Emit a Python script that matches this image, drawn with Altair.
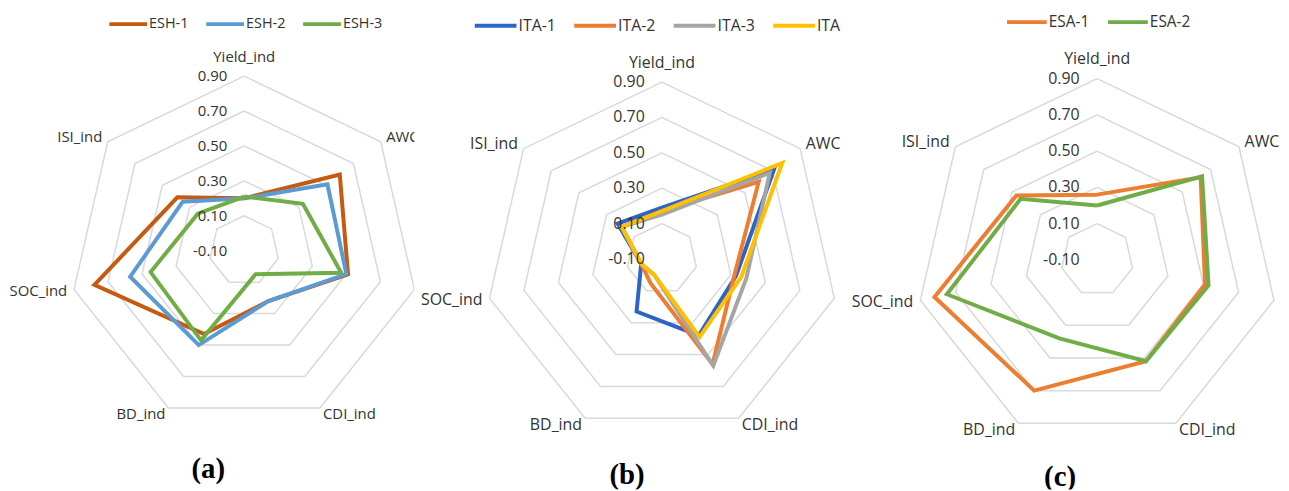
import altair as alt
import pandas as pd
import numpy as np

# ---------------- data ----------------
axis_labels = ["Yield_ind", "AWC", "SAR_ind", "CDI_ind", "BD_ind", "SOC_ind", "ISI_ind"]
hidden_label = "SAR_ind"   # its label falls outside each panel in the reference
tick_values = [0.9, 0.7, 0.5, 0.3, 0.1, -0.1]
tick_labels = ["0.90", "0.70", "0.50", "0.30", "0.10", "-0.10"]
ring_values = [0.1, 0.3, 0.5, 0.7, 0.9]
axis_min, axis_max = -0.1, 0.9

esh_names = ["ESH-1", "ESH-2", "ESH-3"]
esh_colors = ["#C55A11", "#5B9BD5", "#70AD47"]
esh1 = [0.20, 0.60, 0.51, 0.22, 0.43, 0.78, 0.39]
esh2 = [0.20, 0.51, 0.50, 0.22, 0.50, 0.57, 0.35]
esh3 = [0.21, 0.33, 0.47, 0.05, 0.47, 0.45, 0.24]

ita_names = ["ITA-1", "ITA-2", "ITA-3", "ITA-4"]
ita_colors = ["#2E64C6", "#ED7D31", "#A5A5A5", "#FFC000"]
ita1 = [0.19, 0.71, 0.33, 0.38, 0.23, 0.02, 0.22]
ita2 = [0.17, 0.60, 0.32, 0.56, 0.05, 0.02, 0.19]
ita3 = [0.15, 0.68, 0.39, 0.57, 0.00, 0.02, 0.19]
ita4 = [0.17, 0.77, 0.36, 0.39, 0.00, 0.02, 0.19]

esa_names = ["ESA-1", "ESA-2"]
esa_colors = ["#ED7D31", "#70AD47"]
esa1 = [0.26, 0.63, 0.51, 0.52, 0.70, 0.82, 0.47]
esa2 = [0.20, 0.64, 0.53, 0.52, 0.38, 0.75, 0.44]

captions = ["(a)", "(b)", "(c)"]

# ---------------- layout ----------------
H = 483
Y0 = 8
layout = [
    dict(x0=8, W=409, cx=245.7, cy=250.7, R=175.7, fs=15, lfs=14.5,
         lx=110, ly=22.7, lstep=97.5, ll=38, capx=209.5, capy=470),
    dict(x0=417, W=429, cx=666, cy=259, R=178, fs=16, lfs=16,
         lx=477.7, ly=24.3, lstep=100.1, ll=42, capx=631, capy=476),
    dict(x0=846, W=443, cx=1104, cy=260, R=182.5, fs=16, lfs=15.5,
         lx=1013.3, ly=20.7, lstep=101.7, ll=40, capx=1066.7, capy=478),
]
aligns = ["center", "left", "left", "left", "right", "right", "right"]
TEXT = "#333333"
GRID = "#D9D9D9"
N = len(axis_labels)


def rad(v):
    return (v - axis_min) / (axis_max - axis_min)


def polar(r, k):
    th = 2 * np.pi * k / N
    return r * np.sin(th), r * np.cos(th)


def panel(p, names, colors, series, caption):
    R, cx, cy = p["R"], p["cx"], p["cy"]
    cxl, cyl, W = cx - p["x0"], cy - Y0, p["W"]
    xs = alt.Scale(domain=[-cxl / R, (W - cxl) / R], nice=False, zero=False)
    ys = alt.Scale(domain=[-(H - cyl) / R, cyl / R], nice=False, zero=False)
    X = alt.X("x:Q", scale=xs, axis=None)
    Y = alt.Y("y:Q", scale=ys, axis=None)

    def px2u(px, py):
        return (px - cx) / R, (cy - py) / R

    layers = []
    # grid rings
    g = []
    for rv in ring_values:
        for k in range(N + 1):
            x, y = polar(rad(rv), k % N)
            g.append(dict(ring=rv, k=k, x=x, y=y))
    layers.append(alt.Chart(pd.DataFrame(g)).mark_line(
        color=GRID, strokeWidth=1.5, clip=True).encode(
        X, Y, detail="ring:N", order="k:Q"))

    # series
    for name, col, vals in zip(names, colors, series):
        rows = []
        for k in range(N + 1):
            x, y = polar(rad(vals[k % N]), k % N)
            rows.append(dict(series=name, k=k, x=x, y=y))
        layers.append(alt.Chart(pd.DataFrame(rows)).mark_line(
            color=col, strokeWidth=4, clip=True, strokeJoin="miter").encode(
            X, Y, order="k:Q"))

    # category labels
    lab = []
    for k, (name, al) in enumerate(zip(axis_labels, aligns)):
        if name == hidden_label:
            continue
        d = (19 if k == 0 else 7) * R / 175.7
        x, y = polar(1.0 + d / R, k)
        lab.append(dict(label=name, align=al, x=x, y=y))
    labdf = pd.DataFrame(lab)
    for al in ["center", "left", "right"]:
        sub = labdf[labdf["align"] == al]
        layers.append(alt.Chart(sub).mark_text(
            align=al, baseline="middle", font="Open Sans", fontSize=p["fs"],
            color=TEXT, clip=True).encode(X, Y, text="label:N"))

    # tick labels
    t = []
    for v, s in zip(tick_values, tick_labels):
        t.append(dict(label=s, x=-17 / 175.7, y=rad(v)))
    layers.append(alt.Chart(pd.DataFrame(t)).mark_text(
        align="right", baseline="middle", font="Open Sans", fontSize=p["fs"],
        color=TEXT, clip=True).encode(X, Y, text="label:N"))

    # legend
    leg = []
    for i, (name, col) in enumerate(zip(names, colors)):
        start = p["lx"] + i * p["lstep"]
        x1, y1 = px2u(start, p["ly"])
        x2, _ = px2u(start + p["ll"], p["ly"])
        xt, _ = px2u(start + p["ll"] + 2, p["ly"])
        leg.append(dict(series=name, col=col, x=x1, x2=x2, xt=xt, y=y1))
    legdf = pd.DataFrame(leg)
    layers.append(alt.Chart(legdf).mark_rule(strokeWidth=4, clip=True).encode(
        X, alt.X2("x2:Q"), Y,
        color=alt.Color("series:N", scale=alt.Scale(domain=names, range=colors),
                        legend=None)))
    layers.append(alt.Chart(legdf).mark_text(
        align="left", baseline="middle", font="Open Sans", fontSize=p["lfs"],
        color=TEXT, clip=True).encode(
        alt.X("xt:Q", scale=xs, axis=None), Y, text="series:N"))

    # caption
    cxu, cyu = px2u(p["capx"], p["capy"])
    layers.append(alt.Chart(pd.DataFrame([dict(label=caption, x=cxu, y=cyu)])).mark_text(
        align="center", baseline="middle", font="Liberation Serif", fontWeight="bold",
        fontSize=29, color="#000000", clip=True).encode(X, Y, text="label:N"))

    return alt.layer(*layers).properties(width=W, height=H)


pa = panel(layout[0], esh_names, esh_colors, [esh1, esh2, esh3], captions[0])
pb = panel(layout[1], ita_names, ita_colors, [ita1, ita2, ita3, ita4], captions[1])
pc = panel(layout[2], esa_names, esa_colors, [esa1, esa2], captions[2])

chart = alt.hconcat(pa, pb, pc, spacing=0, bounds="flush").resolve_scale(
    x="independent", y="independent", color="independent"
).properties(padding=0).configure_view(stroke=None)

chart.save("out.html", embed_options={"renderer": "svg", "actions": False})
